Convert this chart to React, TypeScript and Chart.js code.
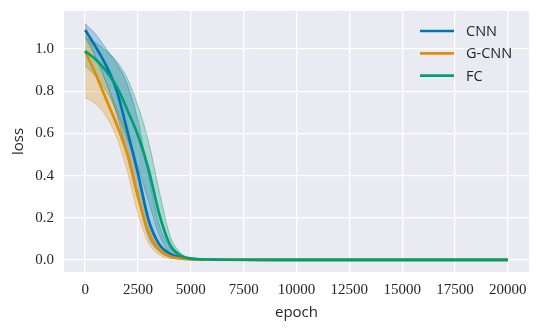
import React, { useEffect, useRef } from "react";
import { Chart, registerables } from "chart.js";

Chart.register(...registerables);

// ---- data ----
const EPOCHS = [0, 500, 1000, 1500, 2000, 2500, 3000, 3500, 4000, 4500, 5000, 6000, 7500, 10000, 15000, 20000];

const CNN_MEAN = [1.09, 1.01, 0.92, 0.80, 0.61, 0.41, 0.19, 0.075, 0.03, 0.012, 0.005, 0.002, 0.001, 0.0005, 0, 0];
const CNN_UPPER = [1.12, 1.07, 1.0, 0.93, 0.83, 0.66, 0.40, 0.17, 0.06, 0.02, 0.008, 0.003, 0.001, 0.0005, 0, 0];
const CNN_LOWER = [1.06, 0.96, 0.84, 0.69, 0.49, 0.29, 0.11, 0.04, 0.014, 0.005, 0.002, 0.001, 0, 0, 0, 0];

const GCNN_MEAN = [0.99, 0.88, 0.76, 0.64, 0.50, 0.30, 0.13, 0.05, 0.018, 0.007, 0.003, 0.001, 0, 0, 0, 0];
const GCNN_UPPER = [1.12, 0.96, 0.84, 0.72, 0.59, 0.40, 0.19, 0.075, 0.028, 0.01, 0.004, 0.001, 0, 0, 0, 0];
const GCNN_LOWER = [0.77, 0.74, 0.68, 0.58, 0.42, 0.22, 0.08, 0.025, 0.008, 0.003, 0.001, 0, 0, 0, 0, 0];

const FC_MEAN = [0.99, 0.95, 0.895, 0.82, 0.71, 0.59, 0.43, 0.22, 0.075, 0.022, 0.007, 0.002, 0.001, 0, 0, 0];
const FC_UPPER = [1.05, 1.03, 0.99, 0.94, 0.86, 0.73, 0.56, 0.33, 0.12, 0.035, 0.01, 0.003, 0.001, 0, 0, 0];
const FC_LOWER = [0.92, 0.87, 0.80, 0.70, 0.57, 0.44, 0.28, 0.12, 0.035, 0.01, 0.003, 0.001, 0, 0, 0, 0];

const SERIES_NAMES = ["CNN", "G-CNN", "FC"];
const SERIES_COLORS = ["#0173b2", "#de8f05", "#029e73"];

const X_TICKS = [0, 2500, 5000, 7500, 10000, 12500, 15000, 17500, 20000];
const Y_TICKS = [0, 0.2, 0.4, 0.6, 0.8, 1.0];

const X_TITLE = "epoch";
const Y_TITLE = "loss";

const TEXT_COLOR = "#262626";
const SERIF = "'Liberation Serif', 'DejaVu Serif', serif";
const SANS = "'Open Sans', 'DejaVu Sans', sans-serif";

function rgba(hex: string, a: number) {
  const r = parseInt(hex.slice(1, 3), 16);
  const g = parseInt(hex.slice(3, 5), 16);
  const b = parseInt(hex.slice(5, 7), 16);
  return `rgba(${r},${g},${b},${a})`;
}

const pts = (ys: number[]) => EPOCHS.map((x, i) => ({ x, y: ys[i] }));

export default function App() {
  const ref = useRef<HTMLCanvasElement | null>(null);

  useEffect(() => {
    document.body.style.margin = "0";
    const canvas = ref.current;
    if (!canvas) return;

    const means = [CNN_MEAN, GCNN_MEAN, FC_MEAN];
    const uppers = [CNN_UPPER, GCNN_UPPER, FC_UPPER];
    const lowers = [CNN_LOWER, GCNN_LOWER, FC_LOWER];

    const datasets: any[] = [];
    SERIES_NAMES.forEach((name, i) => {
      const c = SERIES_COLORS[i];
      datasets.push({
        label: name + " upper",
        data: pts(uppers[i]),
        borderColor: rgba(c, 0.5),
        borderWidth: 0.8,
        backgroundColor: rgba(c, 0.27),
        fill: "+1",
        pointRadius: 0,
        cubicInterpolationMode: "monotone",
        order: 20 + i,
      });
      datasets.push({
        label: name + " lower",
        data: pts(lowers[i]),
        borderColor: rgba(c, 0.5),
        borderWidth: 0.8,
        fill: false,
        pointRadius: 0,
        cubicInterpolationMode: "monotone",
        order: 20 + i,
      });
    });
    SERIES_NAMES.forEach((name, i) => {
      datasets.push({
        label: name,
        data: pts(means[i]),
        borderColor: SERIES_COLORS[i],
        borderWidth: 2.7,
        fill: false,
        pointRadius: 0,
        cubicInterpolationMode: "monotone",
        order: 3 - i,
      });
    });

    const bgPlugin = {
      id: "plotBg",
      beforeDraw(chart: any) {
        const { ctx, chartArea } = chart;
        ctx.save();
        ctx.fillStyle = "#ffffff";
        ctx.fillRect(0, 0, chart.width, chart.height);
        ctx.fillStyle = "#eaeaf2";
        ctx.fillRect(chartArea.left, chartArea.top, chartArea.right - chartArea.left, chartArea.bottom - chartArea.top);
        ctx.restore();
      },
    };

    const legendPlugin = {
      id: "customLegend",
      afterDraw(chart: any) {
        const { ctx, chartArea } = chart;
        ctx.save();
        const x0 = chartArea.right - 109;
        const y0 = chartArea.top + 20;
        SERIES_NAMES.forEach((name, i) => {
          const y = y0 + i * 22.3;
          ctx.strokeStyle = SERIES_COLORS[i];
          ctx.lineWidth = 2.7;
          ctx.beginPath();
          ctx.moveTo(x0, y);
          ctx.lineTo(x0 + 34, y);
          ctx.stroke();
          ctx.fillStyle = TEXT_COLOR;
          ctx.font = `14.5px ${SANS}`;
          ctx.textBaseline = "middle";
          ctx.textAlign = "left";
          ctx.fillText(name, x0 + 46, y + 1);
        });
        ctx.restore();
      },
    };

    const chart = new Chart(canvas, {
      type: "line",
      data: { datasets },
      options: {
        animation: false,
        responsive: false,
        maintainAspectRatio: false,
        layout: { padding: { left: 0, right: 11, top: 11, bottom: 0 } },
        plugins: {
          legend: { display: false },
          tooltip: { enabled: false },
        },
        scales: {
          x: {
            type: "linear",
            min: -1000,
            max: 21000,
            afterBuildTicks: (s: any) => {
              s.ticks = X_TICKS.map((v) => ({ value: v }));
            },
            afterFit: (s: any) => {
              s.height = 58;
              s.paddingLeft = 0;
              s.paddingRight = 0;
            },
            grid: { color: "#ffffff", lineWidth: 1.3, drawTicks: false },
            border: { display: false },
            ticks: {
              color: TEXT_COLOR,
              font: { family: SERIF, size: 15 },
              padding: 9,
              maxRotation: 0,
              autoSkip: false,
              callback: (v: any) => String(v),
            },
            title: {
              display: true,
              text: X_TITLE,
              color: TEXT_COLOR,
              font: { family: SANS, size: 15 },
              padding: { top: 0, bottom: 8 },
            },
          },
          y: {
            type: "linear",
            min: -0.057,
            max: 1.18,
            afterBuildTicks: (s: any) => {
              s.ticks = Y_TICKS.map((v) => ({ value: v }));
            },
            afterFit: (s: any) => {
              s.width = 64;
              s.paddingTop = 0;
              s.paddingBottom = 0;
            },
            grid: { color: "#ffffff", lineWidth: 1.3, drawTicks: false },
            border: { display: false },
            ticks: {
              color: TEXT_COLOR,
              font: { family: SERIF, size: 15 },
              padding: 10,
              autoSkip: false,
              callback: (v: any) => Number(v).toFixed(1),
            },
            title: {
              display: true,
              text: Y_TITLE,
              color: TEXT_COLOR,
              font: { family: SANS, size: 15 },
              padding: { top: 10, bottom: 0 },
            },
          },
        },
      },
      plugins: [bgPlugin, legendPlugin],
    });

    return () => chart.destroy();
  }, []);

  return (
    <div style={{ width: 540, height: 330 }}>
      <canvas ref={ref} width={540} height={330} />
    </div>
  );
}
